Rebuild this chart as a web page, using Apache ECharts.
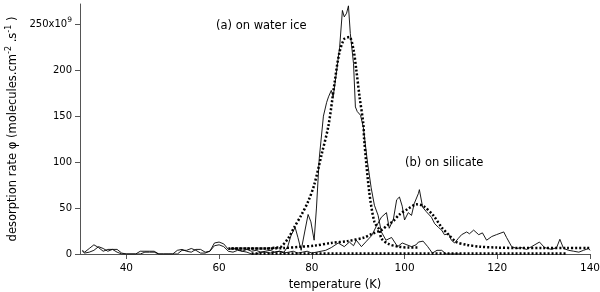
<!DOCTYPE html>
<html>
<head>
<meta charset="utf-8">
<script src="https://cdn.jsdelivr.net/npm/echarts@6/dist/echarts.min.js"></script>
<style>html,body{margin:0;padding:0;background:#fff}#c{width:600px;height:292px}</style>
</head>
<body>
<div id="c"></div>
<script>
// temperature (K), desorption rate (x10^9 molecules.cm-2.s-1)
var waterIce = [
[30.5,4],[31,2],[32,6],[33,10],[34,7],[35,3],[36,5],[37,5],[38,2],[39,0],[40,0],[41,0],[42,0],[43,3],[44,3],[45,3],[46,3],[47,0],[48,0],[49,0],[50,0],[51,0],[52,4],[53,4],[54,6],[55,4],[56,1],[57,1],[58,3],[59,9],[60,10],[61,8],[62,3],[63,2],[64,4],[65,3],[66,2],[67,0],[68,0],[69,2],[70,2],[71,1],[72,2],[73,3],[74,2],[74.8,8],[75.5,20],[76.4,29],[77,18],[77.7,4],[78.5,25],[79.2,43],[79.8,35],[80.5,15],[81,50],[81.6,104],[82.5,150],[83.2,165],[83.6,171],[84.2,178],[84.6,171],[85.3,197],[86.0,225],[86.6,265],[87.0,258],[87.5,262],[87.9,270],[88.3,240],[89.0,207],[89.4,160],[89.8,155],[90.5,151],[91.1,138],[92,100],[92.8,72],[93.5,53],[94.3,42],[95,24],[96,15],[97.2,18],[98.5,8],[99.5,12],[100.5,10],[101.5,8],[102.5,10],[103,13],[104,14],[105,8],[106,1],[107,4],[108,4],[109,0],[112,0]
];
var silicate = [
[30.5,3],[31,1],[32,2],[33,4],[34,8],[35,6],[36,3],[37,5],[38,5],[39,1],[40,0],[41,0],[42,0],[43,0],[44,2],[45,2],[46,2],[47,0],[48,0],[49,0],[50,0],[51,4],[52,5],[53,3],[54,2],[55,5],[56,5],[57,2],[58,3],[59,12],[60,13],[61,11],[62,5],[63,6],[64,5],[65,3],[66,5],[67,3],[68,4],[69,2],[70,3],[71,4],[72,2],[73,3],[74,1],[75,2],[76,3],[77,1],[78,2],[79,3],[80,1],[81,2],[82,3],[83,4],[84.2,7],[85.7,12],[87.0,8],[88.1,13],[89.0,9],[89.6,15],[90.7,8],[91.8,14],[92.9,20],[93.9,30],[95.0,40],[96.1,45],[96.7,28],[97.6,38],[98.3,59],[98.9,62],[99.5,52],[100.0,37],[100.8,45],[101.5,42],[102.1,55],[103.0,66],[103.2,70],[103.9,51],[104.7,46],[105.8,40],[106.5,33],[107.3,29],[108.0,26],[108.6,21],[109.5,22],[110.1,15],[110.8,12],[111.6,17],[112.3,21],[113.4,24],[114.0,22],[114.9,26],[116.0,21],[116.8,23],[117.7,15],[118.8,19],[119.8,21],[121.4,24],[122.0,18],[123.1,8],[124.2,6],[125.2,7],[126.3,5],[127.4,8],[129.1,13],[130.2,7],[131.7,5],[132.8,7],[133.5,16],[134.3,6],[135.4,4],[136.5,3],[137.6,2],[138.6,4],[139.7,6],[140,4]
];
var fitIce = [
[62,6],[66,6],[70,6],[72.5,7],[73.4,8],[74.9,17],[76.2,29],[77.7,42],[79.2,57],[80.5,75],[82.1,108],[83.6,140],[84.9,186],[85.9,218],[87.0,234],[88.1,236],[89.0,222],[89.6,200],[90.3,171],[91.1,142],[91.3,124],[92.4,67],[93.5,35],[94.6,26],[95.0,17],[96.5,11],[98.7,8],[101,7],[103,7]
];
var fitSilicate = [
[62.6,6],[66,6],[70,6],[74,6.5],[77.7,8],[80.5,9],[84.2,12],[87.7,14],[91.3,18],[93.0,22],[95.0,26],[96.5,32],[97.6,36],[98.9,43],[100.7,49],[102.6,54],[104.1,52],[106.2,42],[108.0,29],[109.5,21],[111.2,13],[113.4,10],[116.2,8],[119.9,7],[125,6.5],[130,6.5],[135,6.5],[140,6.5]
];
var baseline = [[67,0.6],[100,0.6],[135,0.6]];
var yTicks = [0,50,100,150,200,250];
var xTicks = [40,60,80,100,120,140];

var dotted = {color:'#000', width:2.5, type:[2,2]};
var chart = echarts.init(document.getElementById('c'));
chart.setOption({
  animation:false,
  backgroundColor:'#fff',
  grid:{left:80, right:10, top:4, bottom:38, containLabel:false, outerBoundsMode:'none'},
  xAxis:{type:'value', min:30, max:140,
    name:'temperature (K)', nameLocation:'middle', nameGap:25,
    nameTextStyle:{fontFamily:'DejaVu Sans', fontSize:11.5, color:'#000'},
    axisLine:{show:true, onZero:false, lineStyle:{color:'#555', width:1}},
    axisTick:{show:true, length:5, customValues:xTicks, lineStyle:{color:'#555'}},
    axisLabel:{customValues:xTicks, fontFamily:'DejaVu Sans', fontSize:10.5, color:'#000', margin:9},
    splitLine:{show:false}},
  yAxis:{type:'value', min:0, max:272,
    name:'desorption rate φ (molecules.cm{sup|-2} .s{sup|-1} )', nameLocation:'middle', nameGap:52,
    nameTextStyle:{fontFamily:'DejaVu Sans', fontSize:11.5, color:'#000',
      rich:{sup:{fontFamily:'DejaVu Sans', fontSize:8, color:'#000', verticalAlign:'top', padding:[0,0,8,0]}}},
    axisLine:{show:true, lineStyle:{color:'#555', width:1}},
    axisTick:{show:true, length:5, customValues:yTicks, lineStyle:{color:'#555'}},
    axisLabel:{customValues:yTicks, fontFamily:'DejaVu Sans', fontSize:10, color:'#000', margin:8,
      formatter:function(v){return v===250 ? '250x10{sup|9}' : String(v);},
      rich:{sup:{fontFamily:'DejaVu Sans', fontSize:7.5, color:'#000', padding:[0,0,8,0]}}},
    splitLine:{show:false}},
  series:[
    {type:'line', data:baseline, showSymbol:false, lineStyle:{color:'#000', width:2.5, type:[2,2]}, z:1},
    {type:'line', data:waterIce, showSymbol:false, lineStyle:{color:'#000', width:0.9}, z:3},
    {type:'line', data:silicate, showSymbol:false, lineStyle:{color:'#000', width:0.9}, z:3},
    {type:'line', data:fitIce, showSymbol:false, smooth:0.3, lineStyle:dotted, z:4},
    {type:'line', data:fitSilicate, showSymbol:false, smooth:0.3, lineStyle:dotted, z:4}
  ],
  graphic:[
    {type:'text', left:216, top:20, style:{text:'(a) on water ice', font:'11.5px "DejaVu Sans"', fill:'#000'}},
    {type:'text', left:405, top:157, style:{text:'(b) on silicate', font:'11.5px "DejaVu Sans"', fill:'#000'}}
  ]
});
</script>
</body>
</html>
